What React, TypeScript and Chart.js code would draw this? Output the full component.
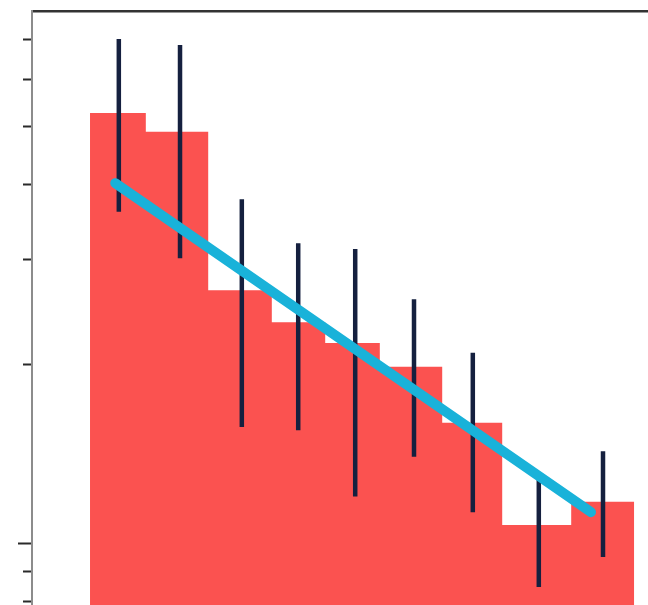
import React, { useEffect, useRef } from "react";
import { Chart, registerables } from "chart.js";

Chart.register(...registerables);

// Histogram bin edges (x units) and bin heights (log y)
const binEdges = [1.0, 1.93, 2.97, 4.03, 4.92, 5.83, 6.87, 7.87, 9.02, 10.07];
const binHeights = [5.27, 4.9, 2.66, 2.35, 2.17, 1.98, 1.595, 1.076, 1.176];

// Error bars
const errX = [1.48, 2.5, 3.53, 4.47, 5.42, 6.4, 7.38, 8.48, 9.55];
const errLow = [3.6, 3.01, 1.57, 1.55, 1.2, 1.4, 1.13, 0.847, 0.951];
const errHigh = [7.01, 6.85, 3.78, 3.19, 3.12, 2.57, 2.09, 1.32, 1.43];

// Fitted trend line
const fitX = [1.42, 9.35];
const fitY = [4.02, 1.13];

// Axis
const yTickValues = [0.8, 0.9, 1, 2, 3, 4, 5, 6, 7];
const yMin = 0.79;
const yMax = 7.81;
const xMin = 0.033;
const xMax = 10.3;

export default function App() {
  const ref = useRef<HTMLCanvasElement | null>(null);

  useEffect(() => {
    if (!ref.current) return;
    const histData = binEdges.map((e, i) => ({
      x: e,
      y: binHeights[Math.min(i, binHeights.length - 1)],
    }));
    const errData: { x: number; y: number | null }[] = [];
    errX.forEach((x, i) => {
      errData.push({ x, y: errLow[i] });
      errData.push({ x, y: errHigh[i] });
      errData.push({ x, y: null });
    });
    const fitData = fitX.map((x, i) => ({ x, y: fitY[i] }));

    const chart = new Chart(ref.current, {
      type: "line",
      data: {
        datasets: [
          {
            data: fitData,
            borderColor: "#19b2d9",
            borderWidth: 10,
            borderCapStyle: "round",
            pointRadius: 0,
            fill: false,
            order: 1,
          },
          {
            data: errData as any,
            borderColor: "#15203f",
            borderWidth: 4.5,
            borderCapStyle: "butt",
            pointRadius: 0,
            spanGaps: false,
            fill: false,
            order: 2,
          },
          {
            data: histData,
            stepped: "before",
            borderWidth: 0,
            borderColor: "rgba(0,0,0,0)",
            backgroundColor: "#fb5250",
            pointRadius: 0,
            fill: "start",
            order: 3,
          },
        ],
      },
      options: {
        animation: false,
        responsive: false,
        events: [],
        layout: { padding: { left: 18, top: 11, right: 0, bottom: 0 } },
        plugins: {
          legend: { display: false },
          tooltip: { enabled: false },
          title: { display: false },
        },
        scales: {
          x: {
            type: "linear",
            min: xMin,
            max: xMax,
            display: false,
          },
          x2: {
            type: "linear",
            position: "top",
            min: xMin,
            max: xMax,
            display: true,
            grid: { display: false, drawTicks: false },
            ticks: { display: false },
            border: { display: true, color: "#333333", width: 2.5 },
          },
          y: {
            type: "logarithmic",
            position: "left",
            min: yMin,
            max: yMax,
            afterBuildTicks: (scale: any) => {
              scale.ticks = yTickValues.map((v) => ({ value: v, major: v === 1 }));
            },
            ticks: { display: false },
            grid: {
              drawOnChartArea: false,
              drawTicks: true,
              tickLength: 14,
              tickColor: "#2a2a2a",
              tickWidth: 2,
              tickBorderDash: (ctx: any) =>
                ctx.tick && ctx.tick.value === 1 ? [] : [0, 5, 9, 0],
            } as any,
            border: { display: true, color: "#8c8c8c", width: 2 },
          },
        },
      },
    } as any);
    return () => chart.destroy();
  }, []);

  return (
    <div style={{ position: "fixed", left: 0, top: 0, width: 648, height: 605, background: "#fff" }}>
      <canvas ref={ref} width={648} height={605} style={{ display: "block" }} />
    </div>
  );
}
